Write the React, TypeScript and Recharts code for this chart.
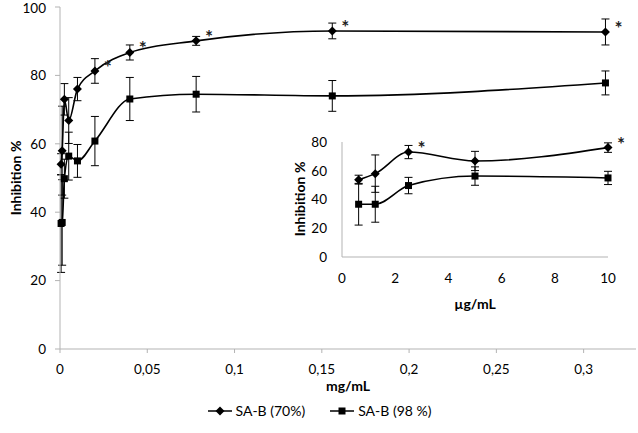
import { LineChart, Line, XAxis, YAxis, ErrorBar, Legend } from 'recharts';

// main chart, dose in mg/mL
const doseMg = [0.000625, 0.00125, 0.0025, 0.005, 0.01, 0.02, 0.04, 0.078, 0.156, 0.3125];
const inhib70 = [54, 58, 73, 66.8, 76, 81.3, 86.7, 90.1, 93, 92.7];
const err70 = [3.1, 13, 4.6, 6.7, 3.4, 3.6, 2.2, 1.3, 2.3, 3.8];
const inhib98 = [36.7, 37, 49.8, 56.4, 55, 60.8, 73.1, 74.5, 74, 77.8];
const err98 = [14.3, 12.5, 5.7, 7, 4.8, 7.2, 6.3, 5.2, 4.5, 3.5];
const star70 = [false, false, false, false, false, true, true, true, true, true];
const mainXTicks = [0, 0.05, 0.1, 0.15, 0.2, 0.25, 0.3];
const mainYTicks = [0, 20, 40, 60, 80, 100];

// inset, dose in µg/mL
const doseUg = [0.625, 1.25, 2.5, 5, 10];
const insetInhib70 = [53.8, 58, 73, 66.8, 76.1];
const insetErr70 = [3.1, 13, 4.6, 6.7, 3.3];
const insetInhib98 = [36.7, 36.7, 49.7, 56.3, 55];
const insetErr98 = [14.5, 12.5, 5.7, 6.4, 4.6];
const insetStar70 = [false, false, true, false, true];
const insetXTicks = [0, 2, 4, 6, 8, 10];
const insetYTicks = [0, 20, 40, 60, 80];

const FONT = 'Lato';
const AXIS = '#b3b3b3';

const mainData = doseMg.map((x, i) => ({
    x,
    a: inhib70[i],
    ea: err70[i],
    b: inhib98[i],
    eb: err98[i],
    star: star70[i],
}));

const insetData = doseUg.map((x, i) => ({
    x,
    a: insetInhib70[i],
    ea: insetErr70[i],
    b: insetInhib98[i],
    eb: insetErr98[i],
    star: insetStar70[i],
}));

const comma = (v: number) => String(v).replace('.', ',');

const renderDiamond = (p: any) => {
    const { cx, cy, payload, index } = p;
    if (cx == null || cy == null) return <g key={`d${index}`} />;
    const r = 4.5;
    return (
        <g key={`d${index}`}>
            <polygon points={`${cx},${cy - r} ${cx + r},${cy} ${cx},${cy + r} ${cx - r},${cy}`} fill="#000" />
            {payload?.star && (
                <text x={cx + 13} y={cy + 3} textAnchor="middle" fontSize={19} fontWeight="bold" fontFamily={FONT} fill="#222">*</text>
            )}
        </g>
    );
};

const renderSquare = (p: any) => {
    const { cx, cy, index } = p;
    if (cx == null || cy == null) return <g key={`s${index}`} />;
    return <rect key={`s${index}`} x={cx - 3.5} y={cy - 3.5} width={7} height={7} fill="#000" />;
};

const renderLegend = () => (
    <div style={{ display: 'flex', justifyContent: 'center', gap: 24, fontFamily: FONT, fontSize: 14, color: '#000' }}>
        <span style={{ display: 'flex', alignItems: 'center' }}>
            <svg width={26} height={12} style={{ marginRight: 3 }}>
                <line x1={1} y1={6} x2={25} y2={6} stroke="#000" strokeWidth={1.5} />
                <polygon points="13,1.5 17.5,6 13,10.5 8.5,6" fill="#000" />
            </svg>
            SA-B (70%)
        </span>
        <span style={{ display: 'flex', alignItems: 'center' }}>
            <svg width={26} height={12} style={{ marginRight: 3 }}>
                <line x1={1} y1={6} x2={25} y2={6} stroke="#000" strokeWidth={1.5} />
                <rect x={9.5} y={2.5} width={7} height={7} fill="#000" />
            </svg>
            SA-B (98 %)
        </span>
    </div>
);

const tickStyle = { fill: '#000', fontSize: 13.5, fontFamily: FONT };

export default function App() {
    return (
        <div style={{ position: 'absolute', left: 0, top: 0, width: 638, height: 433, background: '#fff' }}>
            <LineChart width={638} height={433} data={mainData} margin={{ top: 7, right: 2, left: 0, bottom: 0 }}>
                <XAxis
                    dataKey="x"
                    type="number"
                    domain={[0, 0.33]}
                    ticks={mainXTicks}
                    tickFormatter={comma}
                    height={84}
                    stroke={AXIS}
                    tickSize={4}
                    tickMargin={11}
                    tick={tickStyle}
                    label={{
                        content: () => (
                            <text x={348} y={385} textAnchor="middle" dominantBaseline="central" fontFamily={FONT} fontSize={14} fontWeight="bold" fill="#000">
                                mg/mL
                            </text>
                        ),
                    }}
                />
                <YAxis
                    type="number"
                    domain={[0, 100]}
                    ticks={mainYTicks}
                    width={60}
                    stroke={AXIS}
                    tickSize={5}
                    tickMargin={9}
                    tick={tickStyle}
                    label={{
                        content: () => (
                            <text x={15} y={178} transform="rotate(-90 15 178)" textAnchor="middle" dominantBaseline="central" fontFamily={FONT} fontSize={14} fontWeight="bold" fill="#000">
                                Inhibition %
                            </text>
                        ),
                    }}
                />
                <Legend
                    content={renderLegend}
                    layout="horizontal"
                    verticalAlign="middle"
                    align="center"
                    wrapperStyle={{ top: 402, left: 0, width: 638 }}
                />
                <Line dataKey="b" type="monotone" stroke="#000" strokeWidth={1.6} dot={renderSquare} activeDot={false} isAnimationActive={false}>
                    <ErrorBar dataKey="eb" width={4} stroke="#000" strokeWidth={1} direction="y" />
                </Line>
                <Line dataKey="a" type="monotone" stroke="#000" strokeWidth={1.6} dot={renderDiamond} activeDot={false} isAnimationActive={false}>
                    <ErrorBar dataKey="ea" width={4} stroke="#000" strokeWidth={1} direction="y" />
                </Line>
            </LineChart>

            <div style={{ position: 'absolute', left: 290, top: 130 }}>
                <LineChart width={345} height={185} data={insetData} margin={{ top: 12, right: 27, left: 0, bottom: 0 }}>
                    <XAxis
                        dataKey="x"
                        type="number"
                        domain={[0, 10]}
                        ticks={insetXTicks}
                        height={58}
                        stroke={AXIS}
                        tickLine={false}
                        tickSize={0}
                        tickMargin={16}
                        tick={tickStyle}
                        label={{
                            content: () => (
                                <text x={185} y={173} textAnchor="middle" dominantBaseline="central" fontFamily={FONT} fontSize={14} fontWeight="bold" fill="#000">
                                    µg/mL
                                </text>
                            ),
                        }}
                    />
                    <YAxis
                        type="number"
                        domain={[0, 80]}
                        ticks={insetYTicks}
                        width={52}
                        stroke={AXIS}
                        tickLine={false}
                        tickSize={0}
                        tickMargin={15}
                        tick={tickStyle}
                        label={{
                            content: () => (
                                <text x={9} y={69} transform="rotate(-90 9 69)" textAnchor="middle" dominantBaseline="central" fontFamily={FONT} fontSize={14} fontWeight="bold" fill="#000">
                                    Inhibition %
                                </text>
                            ),
                        }}
                    />
                    <Line dataKey="b" type="monotone" stroke="#000" strokeWidth={1.6} dot={renderSquare} activeDot={false} isAnimationActive={false}>
                        <ErrorBar dataKey="eb" width={4} stroke="#000" strokeWidth={1} direction="y" />
                    </Line>
                    <Line dataKey="a" type="monotone" stroke="#000" strokeWidth={1.6} dot={renderDiamond} activeDot={false} isAnimationActive={false}>
                        <ErrorBar dataKey="ea" width={4} stroke="#000" strokeWidth={1} direction="y" />
                    </Line>
                </LineChart>
            </div>
        </div>
    );
}
